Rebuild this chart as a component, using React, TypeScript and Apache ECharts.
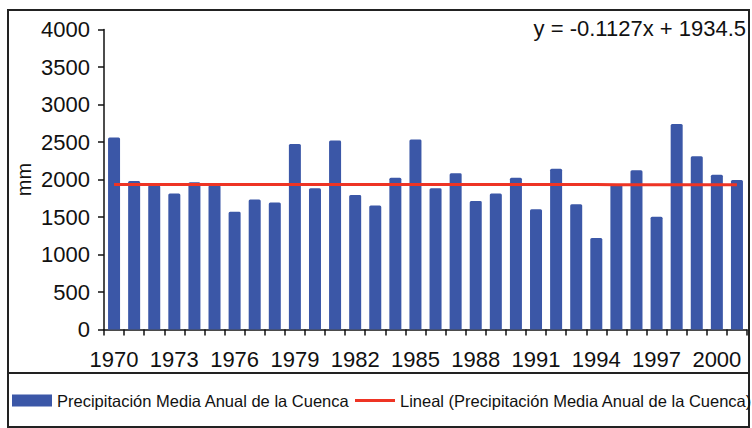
import React, { useEffect, useRef } from "react";
import * as echarts from "echarts";

const years = [
  "1970", "1971", "1972", "1973", "1974", "1975", "1976", "1977", "1978", "1979",
  "1980", "1981", "1982", "1983", "1984", "1985", "1986", "1987", "1988", "1989",
  "1990", "1991", "1992", "1993", "1994", "1995", "1996", "1997", "1998", "1999",
  "2000", "2001",
];

const precipitation = [
  2560, 1980, 1925, 1815, 1965, 1925, 1570, 1735, 1695, 2475,
  1885, 2520, 1795, 1655, 2025, 2535, 1885, 2085, 1715, 1815,
  2025, 1605, 2145, 1670, 1220, 1935, 2125, 1505, 2740, 2310,
  2065, 1995,
];

// Trend line as printed on the chart: y = -0.1127x + 1934.5 (x = 1..n)
const trendSlope = -0.1127;
const trendIntercept = 1934.5;
const trendLabel = "y = -0.1127x + 1934.5";

const barName = "Precipitación Media Anual de la Cuenca";
const lineName = "Lineal (Precipitación Media Anual de la Cuenca)";

const FONT = "'Liberation Sans', Arial, sans-serif";

export default function App() {
  const ref = useRef<HTMLDivElement>(null);

  useEffect(() => {
    if (!ref.current) return;
    const chart = echarts.init(ref.current, null, { renderer: "svg" });
    const trend = years.map((_, i) => trendIntercept + trendSlope * (i + 1));

    chart.setOption({
      animation: false,
      backgroundColor: "#ffffff",
      textStyle: { fontFamily: FONT },
      grid: { left: 104, right: 5, top: 29.5, bottom: 98.5, containLabel: false },
      legend: [
        {
          data: [barName],
          left: 12,
          top: 392,
          padding: 0,
          itemWidth: 40,
          itemHeight: 12,
          icon: "rect",
          textStyle: { fontSize: 16.5, color: "#111", fontFamily: FONT },
        },
        {
          data: [lineName],
          left: 355,
          top: 392,
          padding: 0,
          itemWidth: 40,
          itemHeight: 3,
          icon: "rect",
          textStyle: { fontSize: 16.5, color: "#111", fontFamily: FONT },
        },
      ],
      xAxis: {
        type: "category",
        data: years,
        boundaryGap: true,
        axisLine: { lineStyle: { color: "#111", width: 1.5 } },
        axisTick: { show: true, interval: 0, length: 6, lineStyle: { color: "#111", width: 1.5 } },
        axisLabel: { interval: 2, fontSize: 22, color: "#111", margin: 19, fontFamily: FONT },
      },
      yAxis: {
        type: "value",
        min: 0,
        max: 4000,
        interval: 500,
        name: "mm",
        nameLocation: "middle",
        nameRotate: 90,
        nameGap: 70,
        nameMoveOverlap: false,
        nameTextStyle: { fontSize: 20, color: "#111", fontFamily: FONT },
        axisLine: { show: true, lineStyle: { color: "#111", width: 1.5 } },
        axisTick: { show: true, length: 6, lineStyle: { color: "#111", width: 1.5 } },
        axisLabel: {
          fontSize: 22,
          color: "#111",
          margin: 14,
          fontFamily: FONT,
          formatter: (v: number) => String(v),
        },
        splitLine: { show: false },
      },
      series: [
        {
          name: barName,
          type: "bar",
          data: precipitation,
          barWidth: 12,
          itemStyle: { color: "#3b57a7", borderRadius: [1.5, 1.5, 0, 0] },
        },
        {
          name: lineName,
          type: "line",
          data: trend,
          symbol: "none",
          lineStyle: { color: "#ee3424", width: 3 },
          itemStyle: { color: "#ee3424" },
          z: 5,
        },
      ],
      graphic: [
        {
          type: "rect",
          shape: { x: 8, y: 10, width: 741, height: 417 },
          style: { fill: "none", stroke: "#222", lineWidth: 2 },
          silent: true,
        },
        {
          type: "line",
          shape: { x1: 8, y1: 373, x2: 749, y2: 373 },
          style: { stroke: "#222", lineWidth: 2 },
          silent: true,
        },
        {
          type: "text",
          right: 6,
          top: 17,
          style: {
            text: trendLabel,
            fontSize: 22,
            fontFamily: FONT,
            fill: "#111",
          },
        },
      ],
    });

    return () => chart.dispose();
  }, []);

  return (
    <div
      ref={ref}
      style={{ position: "absolute", left: 0, top: 0, width: 752, height: 428 }}
    />
  );
}
